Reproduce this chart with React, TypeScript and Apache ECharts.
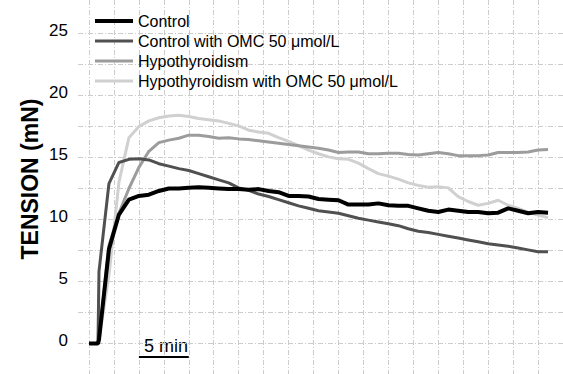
import React, { useEffect, useRef } from "react";
import * as echarts from "echarts";

// time in minutes
const times = [0, 0.9, 1, 2, 3, 4, 5, 6, 7, 8, 9, 10, 11, 12, 13, 14, 15, 16, 17, 18, 19, 20, 21, 22, 23, 24, 25, 26, 27, 28, 29, 30, 31, 32, 33, 34, 35, 36, 37, 38, 39, 40, 41, 42, 43, 44, 45, 46];

const seriesNames = [
  "Control",
  "Control with OMC 50 \u03bcmol/L",
  "Hypothyroidism",
  "Hypothyroidism with OMC 50 \u03bcmol/L",
];

const control = [0, 0, 0.3, 7.6, 10.4, 11.6, 11.9, 12.0, 12.3, 12.5, 12.5, 12.55, 12.6, 12.55, 12.5, 12.45, 12.45, 12.4, 12.45, 12.3, 12.2, 11.9, 11.9, 11.85, 11.65, 11.6, 11.55, 11.2, 11.2, 11.2, 11.3, 11.15, 11.1, 11.1, 10.9, 10.7, 10.6, 10.8, 10.7, 10.6, 10.6, 10.5, 10.55, 10.9, 10.7, 10.5, 10.6, 10.55];
const controlOmc = [0, 0, 5.8, 12.9, 14.6, 14.85, 14.9, 14.8, 14.5, 14.3, 14.1, 13.95, 13.7, 13.45, 13.2, 12.95, 12.55, 12.35, 12.05, 11.85, 11.6, 11.35, 11.1, 10.9, 10.7, 10.6, 10.5, 10.3, 10.1, 9.95, 9.8, 9.65, 9.5, 9.25, 9.05, 8.95, 8.8, 8.65, 8.5, 8.35, 8.2, 8.05, 7.95, 7.85, 7.7, 7.55, 7.4, 7.4];
const hypo = [0, 0, 0.3, 7.9, 10.5, 12.5, 14.2, 15.5, 16.2, 16.4, 16.55, 16.8, 16.8, 16.7, 16.55, 16.6, 16.5, 16.45, 16.35, 16.25, 16.15, 16.05, 15.95, 15.85, 15.75, 15.6, 15.4, 15.45, 15.45, 15.3, 15.3, 15.35, 15.35, 15.25, 15.2, 15.3, 15.4, 15.3, 15.15, 15.15, 15.15, 15.2, 15.4, 15.4, 15.4, 15.45, 15.6, 15.65];
const hypoOmc = [0, 0, 0.3, 5.5, 13.0, 16.6, 17.5, 17.95, 18.2, 18.35, 18.4, 18.3, 18.15, 18.05, 17.95, 17.75, 17.55, 17.2, 17.05, 16.95, 16.6, 16.3, 15.95, 15.6, 15.3, 15.05, 14.9, 14.85, 14.55, 14.1, 13.7, 13.5, 13.25, 12.95, 12.75, 12.6, 12.65, 12.55, 11.85, 11.45, 11.15, 11.3, 11.55, 11.15, 10.9, 10.6, 10.35, 10.15];

const yTicks = [0, 5, 10, 15, 20, 25];
const scaleBarTimes = [5, 10];
const scaleBarLabel = "5 min";
const yTitle = "TENSION (mN)";

const colors = ["#000000", "#505050", "#9c9c9c", "#d0d0d0"];
const widths = [4, 3, 3, 3];

const FONT = "Liberation Sans, Arial, sans-serif";

function pairs(vals: number[]) {
  return times.map((t, i) => [t, vals[i]]);
}

export default function App() {
  const ref = useRef<HTMLDivElement>(null);
  useEffect(() => {
    if (!ref.current) return;
    const chart = echarts.init(ref.current, null, { renderer: "svg" });
    const gridLine = { show: true, lineStyle: { color: "#cccccc", width: 1, type: [5, 2, 1, 2] } };
    const scaleY = -1.09;
    const valueSets = [control, controlOmc, hypo, hypoOmc];
    const dataSeries = [3, 2, 1, 0].map((i) => ({
      name: seriesNames[i],
      type: "line",
      xAxisIndex: 1,
      yAxisIndex: 1,
      data: pairs(valueSets[i]),
      showSymbol: false,
      symbol: "none",
      color: colors[i],
      lineStyle: { width: widths[i], color: colors[i] },
      z: 5 - i,
    }));
    chart.setOption({
      animation: false,
      backgroundColor: "#ffffff",
      grid: [
        { left: 78, top: 2.5, width: 485, height: 372 },
        { left: 89, top: 0, width: 486.4, height: 374 },
      ],
      xAxis: [
        { gridIndex: 0, type: "value", min: 0, max: 1, show: false },
        {
          gridIndex: 1,
          type: "value",
          min: 0,
          max: 47.5,
          interval: 2.5,
          axisLine: { show: false },
          axisTick: { show: false },
          axisLabel: { show: false },
          splitLine: { ...gridLine, showMaxLine: false },
        },
      ],
      yAxis: [
        {
          gridIndex: 0,
          type: "value",
          min: -2.5,
          max: 27.5,
          interval: 2.5,
          axisLine: { show: false },
          axisTick: { show: false },
          axisLabel: {
            margin: 10,
            fontSize: 17,
            color: "#000",
            fontFamily: FONT,
            verticalAlign: "bottom",
            lineHeight: 6,
            formatter: (v: number) => (yTicks.indexOf(v) >= 0 ? String(v) : ""),
          },
          splitLine: { ...gridLine, showMaxLine: false, showMinLine: false },
        },
        {
          gridIndex: 1,
          type: "value",
          min: -2.46,
          max: 27.7,
          show: false,
          splitLine: { show: false },
        },
      ],
      legend: {
        orient: "vertical",
        left: 93,
        top: 13,
        padding: 0,
        itemWidth: 38,
        itemHeight: 14,
        itemGap: 4,
        itemStyle: { opacity: 0 },
        textStyle: { fontSize: 16, color: "#000", fontFamily: FONT },
        data: seriesNames.map((n, i) => ({
          name: n,
          itemStyle: { opacity: 0 },
          lineStyle: { width: widths[i], color: colors[i] },
        })),
      },
      graphic: [
        {
          type: "text",
          x: 30,
          y: 179,
          rotation: Math.PI / 2,
          style: {
            text: yTitle,
            fontSize: 23,
            fontWeight: "bold",
            fontFamily: FONT,
            fill: "#000",
            align: "center",
            verticalAlign: "middle",
          },
        },
        {
          type: "text",
          x: 166,
          y: 346,
          style: {
            text: scaleBarLabel,
            fontSize: 18,
            fontFamily: FONT,
            fill: "#000",
            align: "center",
            verticalAlign: "middle",
          },
        },
      ],
      series: [
        ...dataSeries,
        {
          name: "scale",
          type: "line",
          xAxisIndex: 1,
          yAxisIndex: 1,
          data: scaleBarTimes.map((t) => [t, scaleY]),
          showSymbol: false,
          symbol: "none",
          color: "#000",
          lineStyle: { width: 2, color: "#000" },
          silent: true,
          z: 5,
        },
      ],
    });
    return () => chart.dispose();
  }, []);
  return (
    <div
      ref={ref}
      style={{ position: "fixed", left: 0, top: 0, width: 563, height: 374 }}
    />
  );
}
